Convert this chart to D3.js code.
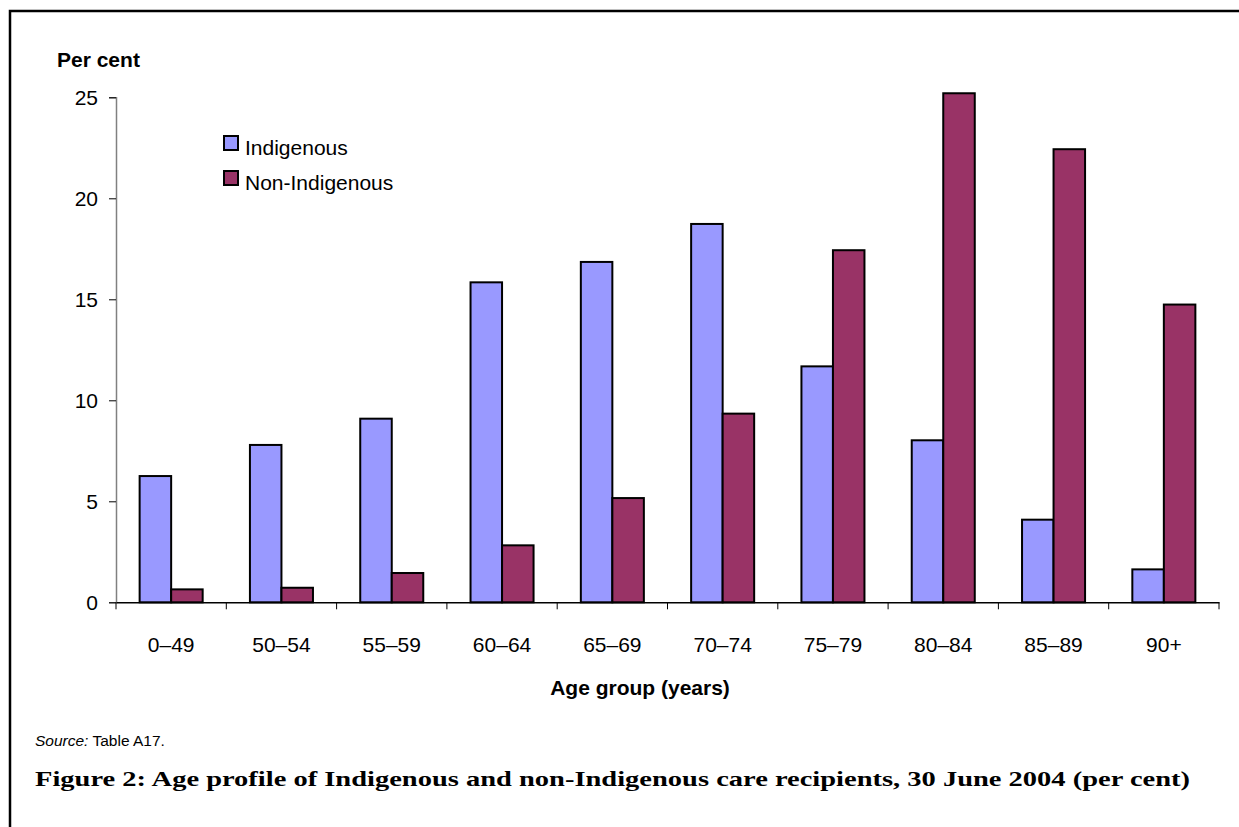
<!DOCTYPE html>
<html>
<head>
<meta charset="utf-8">
<script src="https://cdn.jsdelivr.net/npm/d3@7"></script>
<style>
  body { margin: 0; background: #fff; }
  text { font-family: "Liberation Sans", Arial, sans-serif; fill: #000; }
</style>
</head>
<body>
<div id="chart"></div>
<script>
var ageGroups = ["0–49", "50–54", "55–59", "60–64", "65–69", "70–74", "75–79", "80–84", "85–89", "90+"];
var indigenous = [6.25, 7.79, 9.09, 15.84, 16.85, 18.73, 11.68, 8.02, 4.09, 1.63];
var nonIndigenous = [0.64, 0.72, 1.45, 2.82, 5.16, 9.34, 17.43, 25.2, 22.43, 14.74];
var seriesNames = ["Indigenous", "Non-Indigenous"];
var seriesColors = ["#9999ff", "#993366"];
var yTicks = [0, 5, 10, 15, 20, 25];

var width = 1239, height = 827;
var plot = {left: 116, right: 1219, top: 97.3, bottom: 602.3};

var svg = d3.select("#chart").append("svg")
    .attr("width", width)
    .attr("height", height);

// frame (top and left edges only are visible)
svg.append("path")
    .attr("d", "M10,827 V11 H1239")
    .attr("fill", "none")
    .attr("stroke", "#000")
    .attr("stroke-width", 2.5);

var x = d3.scaleBand().domain(ageGroups).range([plot.left, plot.right]);
var barW = x.bandwidth() / 3.5; // excel gap width 150%
var y = d3.scaleLinear().domain([0, 25]).range([plot.bottom, plot.top]);

var rows = ageGroups.map(function(g, i) {
    return {group: g, values: [indigenous[i], nonIndigenous[i]]};
});

// bars
var groups = svg.append("g").selectAll("g")
    .data(rows).enter().append("g")
    .attr("transform", function(d) { return "translate(" + (x(d.group) + x.bandwidth() / 2 - barW) + ",0)"; });

groups.selectAll("rect")
    .data(function(d) { return d.values; })
    .enter().append("rect")
    .attr("x", function(d, i) { return i * barW; })
    .attr("y", function(d) { return y(d); })
    .attr("width", barW)
    .attr("height", function(d) { return y(0) - y(d); })
    .attr("fill", function(d, i) { return seriesColors[i]; })
    .attr("stroke", "#000")
    .attr("stroke-width", 2);

// y axis
var yAxis = svg.append("g")
    .attr("transform", "translate(" + plot.left + ",0)")
    .call(d3.axisLeft(y).tickValues(yTicks).tickSize(7).tickPadding(11).tickFormat(d3.format("d")));
yAxis.select(".domain").attr("stroke", "#808080").attr("stroke-width", 1.5);
yAxis.selectAll(".tick line").attr("stroke", "#000");
yAxis.selectAll("text").style("font-size", "21px").style("font-family", "Liberation Sans, Arial, sans-serif");

// x axis, ticks on category boundaries
var xAxis = svg.append("g")
    .attr("transform", "translate(0," + plot.bottom + ")")
    .call(d3.axisBottom(x).tickSize(0).tickPadding(35));
xAxis.select(".domain").attr("stroke", "#000").attr("stroke-width", 1.5);
xAxis.selectAll("text").style("font-size", "21px").style("font-family", "Liberation Sans, Arial, sans-serif");

var bounds = ageGroups.map(function(g) { return x(g); }).concat([plot.right]);
xAxis.selectAll(".bound").data(bounds).enter().append("line")
    .attr("class", "bound")
    .attr("x1", function(d) { return d; })
    .attr("x2", function(d) { return d; })
    .attr("y1", 0).attr("y2", 7)
    .attr("stroke", "#000");

// axis titles
svg.append("text")
    .attr("x", 57).attr("y", 67)
    .style("font-size", "21px").style("font-weight", "bold")
    .text("Per cent");

svg.append("text")
    .attr("x", 640).attr("y", 695)
    .attr("text-anchor", "middle")
    .style("font-size", "21px").style("font-weight", "bold")
    .text("Age group (years)");

// legend
var legend = svg.append("g").selectAll("g")
    .data(seriesNames).enter().append("g")
    .attr("transform", function(d, i) { return "translate(224," + (136 + i * 35) + ")"; });
legend.append("rect")
    .attr("width", 14).attr("height", 14)
    .attr("fill", function(d, i) { return seriesColors[i]; })
    .attr("stroke", "#000").attr("stroke-width", 2);
legend.append("text")
    .attr("x", 21).attr("y", 19)
    .style("font-size", "21px")
    .text(function(d) { return d; });

// source + caption
var src = svg.append("text")
    .attr("x", 35).attr("y", 746)
    .style("font-size", "15.5px");
src.append("tspan").style("font-style", "italic").text("Source:");
src.append("tspan").text(" Table A17.");

svg.append("text")
    .attr("x", 35).attr("y", 786)
    .attr("textLength", 1155)
    .attr("lengthAdjust", "spacingAndGlyphs")
    .style("font-family", "'Liberation Serif', 'DejaVu Serif', serif")
    .style("font-size", "22px").style("font-weight", "bold")
    .text("Figure 2: Age profile of Indigenous and non-Indigenous care recipients, 30 June 2004 (per cent)");
</script>
</body>
</html>
